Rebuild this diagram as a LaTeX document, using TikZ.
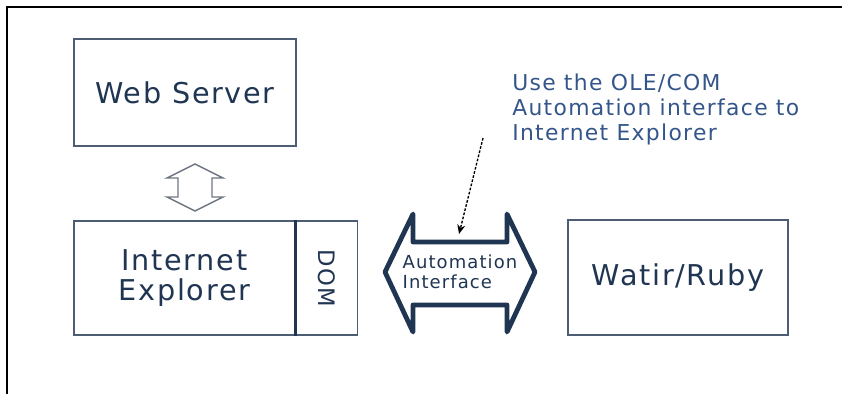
\documentclass[tikz,border=0pt]{standalone}
\usepackage{fontspec}
\setmainfont[LetterSpace=6]{DejaVu Sans}
\usetikzlibrary{arrows.meta}
\definecolor{navy}{HTML}{1F3552}
\definecolor{slate}{HTML}{4D5D73}
\definecolor{note}{HTML}{34558A}
\definecolor{hollow}{HTML}{6E7680}

\begin{document}
\begin{tikzpicture}[
  x=0.75pt, y=-0.75pt,
  box/.style={draw=slate, line width=1.1pt, text=navy, align=center, inner sep=0pt,
    font=\fontsize{21.5}{23}\selectfont},
  divider/.style={draw=navy, line width=2.2pt},
  bigarrow/.style={draw=navy, line width=3.6pt, line join=round, line cap=round},
  smallarrow/.style={draw=hollow, line width=1.1pt, line join=miter},
  hint/.style={-{Stealth[length=7pt,width=6pt]}, line width=1pt, dash pattern=on 2pt off 1.2pt},
  lbl/.style={text=note, align=left, inner sep=0pt, font=\fontsize{16.4}{18.75}\selectfont},
  frame/.style={draw=black, line width=1.5pt},
]
\useasboundingbox (0,0) rectangle (842,394);

% ---------- frame ----------
\draw[frame] (7,394) -- (7,7) -- (842,7);

% ---------- boxes ----------
\node[box, minimum width=166.5pt, minimum height=80.25pt] (WS) at (185,92.5) {Web Server};
\node[box, minimum width=165.75pt, minimum height=85.5pt] (IE) at (184.5,278) {Internet\\Explorer};
\node[box, minimum width=85.5pt, minimum height=46.5pt, rotate=-90,
  font=\fontsize{17}{19}\selectfont] (DOM) at (326.25,278) {DOM};
\node[box, minimum width=165pt, minimum height=86.25pt] (WR) at (678,277.5) {Watir/Ruby};
\draw[divider] (IE.north east) -- (IE.south east);

% ---------- hollow arrow web server <-> IE ----------
\draw[smallarrow] (195,164) -- (223,178) -- (212,178) -- (212,197) -- (223,197) -- (195,211)
  -- (167,197) -- (178,197) -- (178,178) -- (167,178) -- cycle;

% ---------- automation interface ----------
\draw[bigarrow] (385,272) -- (413,214) -- (413,242) -- (507,242) -- (507,214) -- (535,272)
  -- (507,332) -- (507,305) -- (413,305) -- (413,332) -- cycle;
\node[text=navy, align=left, inner sep=0pt, font=\fontsize{13.5}{15}\selectfont] (AI) at (460,272)
  {Automation\\Interface};

% ---------- note ----------
\node[lbl, anchor=north west] (NT) at (512,74)
  {Use the OLE/COM\\Automation interface to\\Internet Explorer};
\coordinate (tail) at (483,138);
\coordinate (tip) at (459,234);
\draw[hint] (tail) -- (tip);

\end{tikzpicture}
\end{document}
